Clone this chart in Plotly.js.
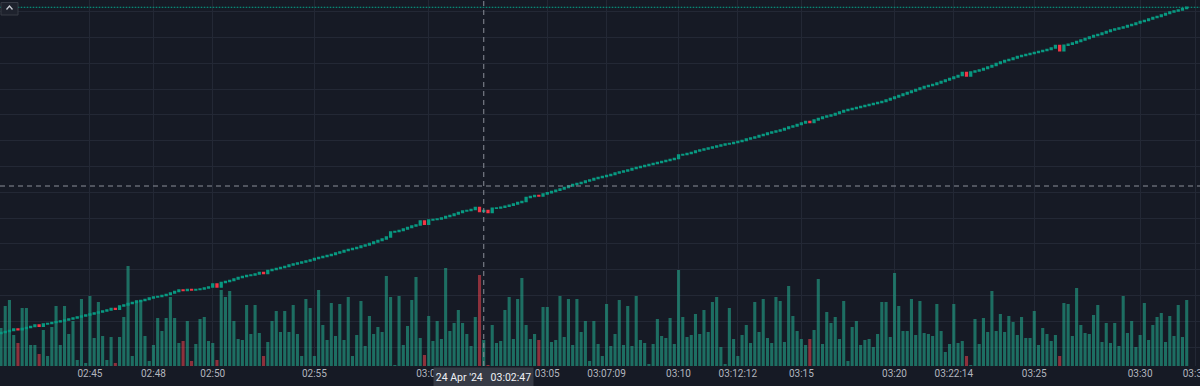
<!DOCTYPE html>
<html><head><meta charset="utf-8">
<script src="https://cdn.plot.ly/plotly-3.0.1.min.js"></script>
<style>html,body{margin:0;padding:0;background:#161a25;overflow:hidden;}#chart{width:1200px;height:386px;}</style>
</head><body><div id="chart"></div><script>
// ---- data ----
const firstOpen = 3103.25;
const closes = [
3103.35,3103.45,3103.55,3103.70,3103.62,3103.75,3103.85,3103.95,3104.10,3103.98,
3104.20,3104.25,3104.35,3104.43,3104.50,3104.60,3104.70,3104.80,3104.90,3105.00,
3105.10,3105.20,3105.30,3105.40,3105.50,3105.60,3105.75,3105.67,3106.00,3106.10,
3106.25,3106.35,3106.45,3106.55,3106.65,3106.80,3106.90,3106.95,3107.05,3107.15,
3107.30,3107.45,3107.60,3107.55,3107.65,3107.60,3107.65,3107.70,3107.80,3107.90,
3108.20,3107.90,3108.35,3108.45,3108.55,3108.70,3108.85,3108.95,3109.05,3109.10,
3109.20,3109.35,3109.25,3109.55,3109.65,3109.75,3109.85,3109.95,3110.10,3110.20,
3110.30,3110.40,3110.50,3110.60,3110.75,3110.85,3110.95,3111.05,3111.15,3111.30,
3111.40,3111.55,3111.65,3111.75,3111.85,3112.00,3112.10,3112.25,3112.40,3112.55,
3112.70,3112.90,3113.40,3113.45,3113.55,3113.70,3113.85,3114.00,3114.10,3114.50,
3114.17,3114.60,3114.65,3114.70,3114.80,3114.95,3115.05,3115.20,3115.35,3115.50,
3115.55,3115.65,3115.85,3115.45,3115.55,3115.35,3115.77,3115.80,3115.87,3115.97,
3116.07,3116.20,3116.35,3116.45,3116.85,3116.95,3117.05,3117.00,3117.20,3117.33,
3117.45,3117.57,3117.70,3117.85,3118.00,3118.15,3118.25,3118.35,3118.50,3118.60,
3118.75,3118.85,3118.95,3119.05,3119.15,3119.30,3119.40,3119.50,3119.60,3119.75,
3119.85,3119.95,3120.05,3120.15,3120.25,3120.35,3120.45,3120.55,3120.65,3120.75,
3121.10,3121.15,3121.25,3121.35,3121.50,3121.60,3121.70,3121.80,3121.90,3122.00,
3122.10,3122.20,3122.25,3122.35,3122.45,3122.55,3122.70,3122.80,3122.90,3123.05,
3123.15,3123.30,3123.40,3123.50,3123.60,3123.75,3123.90,3124.00,3124.15,3124.30,
3124.45,3124.35,3124.60,3124.75,3124.90,3125.00,3125.10,3125.25,3125.40,3125.55,
3125.65,3125.75,3125.85,3125.95,3126.05,3126.15,3126.25,3126.35,3126.45,3126.60,
3126.75,3126.90,3127.05,3127.20,3127.35,3127.50,3127.65,3127.80,3127.95,3128.05,
3128.15,3128.30,3128.45,3128.60,3128.75,3128.90,3129.05,3129.35,3129.00,3129.40,
3129.50,3129.60,3129.75,3129.90,3130.05,3130.25,3130.40,3130.55,3130.65,3130.80,
3130.95,3131.05,3131.15,3131.25,3131.35,3131.45,3131.55,3131.65,3131.80,3132.05,
3131.53,3132.07,3132.17,3132.30,3132.45,3132.60,3132.75,3132.90,3133.05,3133.15,
3133.30,3133.45,3133.60,3133.70,3133.80,3133.90,3134.05,3134.15,3134.30,3134.45,
3134.55,3134.70,3134.85,3134.95,3135.10,3135.25,3135.40,3135.50,3135.60,3135.75,
3135.87];
const volumes = [
38,60,66,31,23,58,58,21,21,12,36,10,39,60,21,60,32,45,6,67,3,70,28,64,30,6,29,3,29,49,100,10,66,66,30,5,21,48,35,48,69,48,23,25,45,5,22,47,49,25,23,6,76,69,75,45,27,
26,61,32,61,33,10,24,45,55,34,55,34,61,32,10,67,58,10,76,41,26,63,30,62,26,69,10,31,65,20,50,32,39,34,90,69,1,70,21,40,66,89,28,11,50,25,45,27,98,35,43,56,43,32,20,49,91,
26,1,41,23,25,56,69,27,67,88,41,27,32,26,59,59,24,26,70,29,67,21,67,34,45,5,45,22,10,62,20,32,66,21,60,20,70,26,23,2,22,47,30,28,48,22,96,49,29,31,52,32,56,34,64,69,
19,2,58,27,10,31,41,23,64,34,67,28,23,69,65,24,80,50,35,27,21,27,36,87,22,54,43,49,27,65,5,39,45,21,26,27,19,32,64,64,29,93,60,35,35,67,31,65,33,32,30,62,35,14,22,62,23,
25,10,1,47,22,48,34,75,35,52,34,50,44,31,49,28,28,55,21,38,32,25,31,10,63,62,30,78,41,33,32,51,61,24,43,23,43,20,70,33,45,19,31,63,26,41,49,53,24,50,30,61,29,66];
const tickIndex = [21, 36, 50, 74, 101, 129, 143, 160, 174, 189, 211, 225, 244, 269, 282];
const tickLabels = ['02:45','02:48','02:50','02:55','03:00','03:05','03:07:09','03:10','03:12:12','03:15','03:20','03:22:14','03:25','03:30','03:33'];
const crossIdx = 114;
const crossPrice = 3118.00;
const crossDate = "24 Apr '24";
const crossTime = "03:02:47";

// ---- styling ----
const BG = '#161a25';
const GRID = '#232835';
const UP = '#089981', DOWN = '#f23645';
const VOL_UP = 'rgba(36,176,146,0.56)', VOL_DOWN = 'rgba(240,70,80,0.55)';

const idx = closes.map((_, i) => i);
const opens = closes.map((c, i) => i === 0 ? firstOpen : closes[i - 1]);
const highs = closes.map((c, i) => Math.max(c, opens[i]));
const lows = closes.map((c, i) => Math.min(c, opens[i]));
const volColors = closes.map((c, i) => c >= opens[i] ? VOL_UP : VOL_DOWN);
const lastClose = closes[closes.length - 1];

const traces = [
  { type: 'bar', x: idx, y: volumes, xaxis: 'x', yaxis: 'y',
    marker: { color: volColors, line: { width: 0 } }, hoverinfo: 'skip', showlegend: false },
  { type: 'candlestick', x: idx, open: opens, high: highs, low: lows, close: closes,
    xaxis: 'x', yaxis: 'y2', whiskerwidth: 0,
    increasing: { line: { color: UP, width: 1.5 }, fillcolor: UP },
    decreasing: { line: { color: DOWN, width: 1.5 }, fillcolor: DOWN },
    hoverinfo: 'skip', showlegend: false }
];

const layout = {
  width: 1200, height: 386,
  margin: { l: 0, r: 0, t: 0, b: 20, pad: 0 },
  paper_bgcolor: BG, plot_bgcolor: BG,
  bargap: 0.27, boxgap: 0.4,
  showlegend: false,
  xaxis: {
    type: 'linear', range: [-0.236, 283.14], fixedrange: true,
    rangeslider: { visible: false },
    tickmode: 'array', tickvals: tickIndex, ticktext: tickLabels,
    showgrid: true, gridcolor: GRID, gridwidth: 1,
    zeroline: false, showline: false, ticks: '',
    ticklabeloverflow: 'allow',
    tickfont: { family: 'Roboto, "Liberation Sans", sans-serif', size: 10, color: '#b2b5be' }
  },
  yaxis: { range: [0, 366], showgrid: false, zeroline: false, showticklabels: false, showline: false, fixedrange: true },
  yaxis2: {
    overlaying: 'y', anchor: 'x', side: 'right',
    range: [3100, 3136.6], tick0: 3101.9, dtick: 2.579,
    showgrid: true, gridcolor: GRID, gridwidth: 1,
    zeroline: false, showticklabels: false, showline: false, ticks: '', fixedrange: true
  },
  shapes: [
    // last price line
    { type: 'line', xref: 'paper', x0: 0, x1: 1, yref: 'y2', y0: lastClose, y1: lastClose,
      line: { color: 'rgba(8,153,129,0.35)', width: 1 } },
    { type: 'line', xref: 'paper', x0: 0, x1: 1, yref: 'y2', y0: lastClose, y1: lastClose,
      line: { color: UP, width: 1, dash: '1px,2px' } },
    // crosshair
    { type: 'line', xref: 'x', x0: crossIdx, x1: crossIdx, yref: 'paper', y0: 0, y1: 1,
      line: { color: '#8a8e99', width: 1, dash: '5px,4px' } },
    { type: 'line', xref: 'paper', x0: 0, x1: 1, yref: 'y2', y0: crossPrice, y1: crossPrice,
      line: { color: '#8a8e99', width: 1, dash: '5px,4px' } },
    // collapse button
    { type: 'rect', xref: 'paper', yref: 'paper', xsizemode: 'pixel', ysizemode: 'pixel',
      xanchor: 0, yanchor: 1, x0: 1, x1: 18, y0: -15, y1: -2.5,
      fillcolor: '#1e222d', line: { color: '#363a45', width: 1 } },
    { type: 'path', xref: 'paper', yref: 'paper', xsizemode: 'pixel', ysizemode: 'pixel',
      xanchor: 0, yanchor: 1, path: 'M 6.5,-9.5 L 9.5,-6 L 12.5,-9.5',
      line: { color: '#c8cbd3', width: 1.3 } }
  ],
  annotations: [
    { xref: 'x', x: crossIdx, yref: 'paper', y: 0, yanchor: 'top', xanchor: 'center', yshift: -1,
      text: crossDate + '&nbsp;&nbsp;&nbsp;' + crossTime, showarrow: false,
      width: 97, height: 16, bgcolor: '#363a45', borderpad: 1,
      font: { family: 'Roboto, "Liberation Sans", sans-serif', size: 10.5, color: '#eef0f4' } }
  ]
};

Plotly.newPlot('chart', traces, layout, { staticPlot: true, displayModeBar: false });
</script></body></html>
